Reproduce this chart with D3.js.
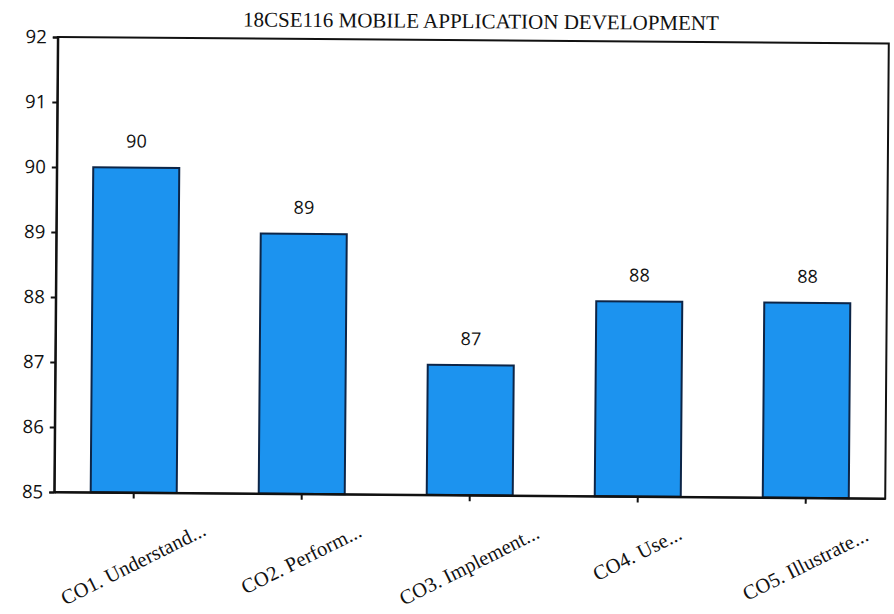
<!DOCTYPE html>
<html>
<head>
<meta charset="utf-8">
<script src="https://cdn.jsdelivr.net/npm/d3@7"></script>
<style>
  html, body { margin: 0; padding: 0; background: #ffffff; }
  svg { display: block; }
</style>
</head>
<body>
<svg id="chart" width="894" height="614"></svg>
<script>
// Course outcome attainment for 18CSE116
const title = "18CSE116 MOBILE APPLICATION DEVELOPMENT";
const categories = ["CO1. Understand...", "CO2. Perform...", "CO3. Implement...", "CO4. Use...", "CO5. Illustrate..."];
const values = [90, 89, 87, 88, 88];
const yTicks = [85, 86, 87, 88, 89, 90, 91, 92];
const yDomain = [85, 92];

const W = 894, H = 614;
const margin = { left: 56, right: 7, top: 40, bottom: 119 };
const plotW = W - margin.left - margin.right;
const plotH = H - margin.top - margin.bottom;

const svg = d3.select("#chart");
// whole sheet sits at a slight clockwise tilt
const root = svg.append("g")
  .attr("transform", `rotate(0.45 ${W / 2} ${H / 2 - 37})`);

const x = d3.scaleBand()
  .domain(categories)
  .range([margin.left, margin.left + plotW])
  .paddingInner(0.488)
  .paddingOuter(0.217);

const y = d3.scaleLinear()
  .domain(yDomain)
  .range([margin.top + plotH, margin.top]);

const sansFont = "'Open Sans', 'Liberation Sans', sans-serif";
const serifFont = "'Liberation Serif', 'DejaVu Serif', serif";
const ink = "#111111";

// title
root.append("text")
  .attr("x", 479)
  .attr("y", 28)
  .attr("text-anchor", "middle")
  .attr("font-family", serifFont)
  .attr("font-size", 21)
  .attr("fill", ink)
  .text(title);

// bars
root.append("g")
  .selectAll("rect")
  .data(values)
  .join("rect")
  .attr("x", (d, i) => x(categories[i]))
  .attr("y", d => y(d))
  .attr("width", x.bandwidth())
  .attr("height", d => y(yDomain[0]) - y(d))
  .attr("fill", "#1c93ef")
  .attr("stroke", "#0d2547")
  .attr("stroke-width", 2);

// value labels
root.append("g")
  .selectAll("text")
  .data(values)
  .join("text")
  .attr("x", (d, i) => x(categories[i]) + x.bandwidth() / 2)
  .attr("y", d => y(d) - 20)
  .attr("text-anchor", "middle")
  .attr("font-family", sansFont)
  .attr("font-size", 18)
  .attr("fill", ink)
  .text(d => d);

// plot frame
root.append("rect")
  .attr("x", margin.left)
  .attr("y", margin.top)
  .attr("width", plotW)
  .attr("height", plotH)
  .attr("fill", "none")
  .attr("stroke", ink)
  .attr("stroke-width", 2);

// y axis
const yAxis = root.append("g")
  .attr("transform", `translate(${margin.left},0)`)
  .call(d3.axisLeft(y).tickValues(yTicks).tickSize(5).tickPadding(6).tickFormat(d3.format("d")));
yAxis.select(".domain").attr("stroke", ink).attr("stroke-width", 2);
yAxis.selectAll(".tick line").attr("stroke", ink).attr("stroke-width", 2);
yAxis.selectAll(".tick text")
  .attr("font-family", sansFont)
  .attr("font-size", 18.5)
  .attr("fill", ink);

// x axis
const xAxis = root.append("g")
  .attr("transform", `translate(0,${margin.top + plotH})`)
  .call(d3.axisBottom(x).tickSize(6).tickSizeOuter(0).tickFormat(""));
xAxis.select(".domain").attr("stroke", ink).attr("stroke-width", 2);
xAxis.selectAll(".tick line").attr("stroke", ink).attr("stroke-width", 2);

// rotated category labels: centred under each tick, tops aligned
const angle = -27;
const rad = Math.abs(angle) * Math.PI / 180;
const labelTop = margin.top + plotH + 27;
const labelSize = 20.5;
root.append("g")
  .selectAll("text")
  .data(categories)
  .join("text")
  .attr("text-anchor", "middle")
  .attr("dominant-baseline", "central")
  .attr("font-family", serifFont)
  .attr("font-size", labelSize)
  .attr("fill", ink)
  .text(d => d)
  .each(function (d) {
    const L = this.getComputedTextLength();
    const h = labelSize * 0.9;
    const cx = x(d) + x.bandwidth() / 2;
    const cy = labelTop + (L * Math.sin(rad) + h * Math.cos(rad)) / 2;
    d3.select(this)
      .attr("x", cx)
      .attr("y", cy)
      .attr("transform", `rotate(${angle} ${cx} ${cy})`);
  });
</script>
</body>
</html>
